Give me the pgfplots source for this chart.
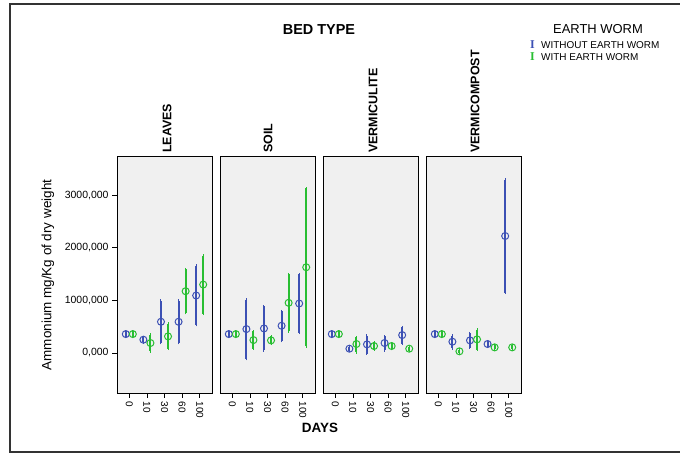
\documentclass[border=0pt]{standalone}
\usepackage{fontspec}
\setmainfont{Liberation Sans}
\newfontfamily\legserif{Liberation Serif}
\usepackage{pgfplots}
\pgfplotsset{compat=1.18}
\usepackage{pgfplotstable}

\definecolor{ewblue}{RGB}{60,80,180}
\definecolor{ewgreen}{RGB}{40,190,50}
\definecolor{panelgray}{RGB}{240,240,240}

% x is the day index (0,10,30,60,100 -> 0..4) with a side offset
\pgfplotstableread{
x    y     ep    em
-0.2 360   50    50
0.8  253   50    50
1.8  594   404   404
2.8  594   404   404
3.8  1093  568   562
}\leavesA
\pgfplotstableread{
x    y     ep    em
0.2  360   50    50
1.2  190   157   158
2.2  316   240   234
3.2  1175  417   417
4.2  1301  550   556
}\leavesB
\pgfplotstableread{
x    y     ep    em
-0.2 360   50    50
0.8  455   562   569
1.8  467   424   416
2.8  518   278   291
3.8  941   556   556
}\soilA
\pgfplotstableread{
x    y     ep    em
0.2  360   50    50
1.2  246   165   164
2.2  240   76    63
3.2  954   543   543
4.2  1630  1497  1504
}\soilB
\pgfplotstableread{
x    y     ep    em
-0.2 360   50    50
0.8  82    40    40
1.8  164   164   177
2.8  190   126   139
3.8  341   152   164
}\vermiA
\pgfplotstableread{
x    y     ep    em
0.2  360   50    50
1.2  171   132   158
2.2  133   70    70
3.2  133   50    50
4.2  82    40    40
}\vermiB
\pgfplotstableread{
x    y     ep    em
-0.2 360   50    50
0.8  215   113   127
1.8  240   139   139
2.8  171   50    50
3.8  2224  1074  1074
}\compA
\pgfplotstableread{
x    y     ep    em
0.2  360   50    50
1.2  32    30    30
2.2  259   183   196
3.2  107   40    40
4.2  107   40    40
}\compB

\pgfplotsset{
  panel/.style={
    scale only axis, width=95bp, height=237bp, anchor=south west,
    xmin=-0.7, xmax=4.7, ymin=-760, ymax=3745,
    axis background/.style={fill=panelgray},
    xtick={0,1,2,3,4}, xticklabels={0,10,30,60,100},
    xticklabel style={rotate=-90, anchor=west, font=\fontsize{10}{11}\selectfont},
    tick align=outside, major tick length=5bp,
    xtick pos=bottom, ytick pos=left,
    ytick={0,1000,2000,3000},
    yticklabels={{0,000},{1000,000},{2000,000},{3000,000}},
    yticklabel style={font=\fontsize{10.5}{12}\selectfont},
    tick style={black, line width=0.8bp},
    axis line style={line width=0.8bp},
    /pgf/number format/assume math mode=true,
  },
  noy/.style={ytick=\empty},
}

\newcommand{\series}[2]{%
  \addplot[only marks, mark=o, mark size=3.5bp, color=#2,
    mark options={line width=1bp, solid},
    /pgfplots/error bars/y dir=both,
    /pgfplots/error bars/y explicit,
    /pgfplots/error bars/error bar style={line width=2bp, color=#2, solid},
    /pgfplots/error bars/error mark options={line width=1bp, mark size=1.3bp, color=#2}]
    table[x=x, y=y, y error plus=ep, y error minus=em] {#1};
}

\begin{document}
\begin{tikzpicture}[x=1bp, y=1bp]
\useasboundingbox (0,0) rectangle (680,453);
\clip (0,0) rectangle (680,453);
\draw[line width=1.5bp, black!80] (10,1) rectangle (700,449);

\begin{axis}[panel, at={(117bp,60bp)}]
\series{\leavesA}{ewblue}
\series{\leavesB}{ewgreen}
\end{axis}
\begin{axis}[panel, noy, at={(220bp,60bp)}]
\series{\soilA}{ewblue}
\series{\soilB}{ewgreen}
\end{axis}
\begin{axis}[panel, noy, at={(323bp,60bp)}]
\series{\vermiA}{ewblue}
\series{\vermiB}{ewgreen}
\end{axis}
\begin{axis}[panel, noy, at={(426bp,60bp)}]
\series{\compA}{ewblue}
\series{\compB}{ewgreen}
\end{axis}

% facet titles
\node[font=\bfseries\fontsize{14.5}{16}\selectfont] at (319,423) {BED TYPE};
\begin{scope}[every node/.style={rotate=90, anchor=west, font=\bfseries\fontsize{12.5}{14}\selectfont, inner sep=0pt}]
\node at (167,300) {LEAVES};
\node at (268,300) {SOIL};
\node at (373,300) {VERMICULITE};
\node at (475,300) {VERMICOMPOST};
\end{scope}

% axis titles
\node[rotate=90, font=\fontsize{13.5}{15}\selectfont] at (48,178) {Ammonium mg/Kg of dry weight};
\node[font=\bfseries\fontsize{13.5}{15}\selectfont] at (320,25) {DAYS};

% legend
\node[font=\fontsize{13}{15}\selectfont] at (598,424) {EARTH WORM};
\node[anchor=base west, inner sep=0pt, text=ewblue, font=\legserif\bfseries\fontsize{12}{12}\selectfont] at (530,404) {I};
\node[anchor=base west, inner sep=0pt, font=\fontsize{10}{12}\selectfont] at (541,404) {WITHOUT EARTH WORM};
\node[anchor=base west, inner sep=0pt, text=ewgreen, font=\legserif\bfseries\fontsize{12}{12}\selectfont] at (530,392) {I};
\node[anchor=base west, inner sep=0pt, font=\fontsize{10}{12}\selectfont] at (541,392) {WITH EARTH WORM};
\end{tikzpicture}
\end{document}
